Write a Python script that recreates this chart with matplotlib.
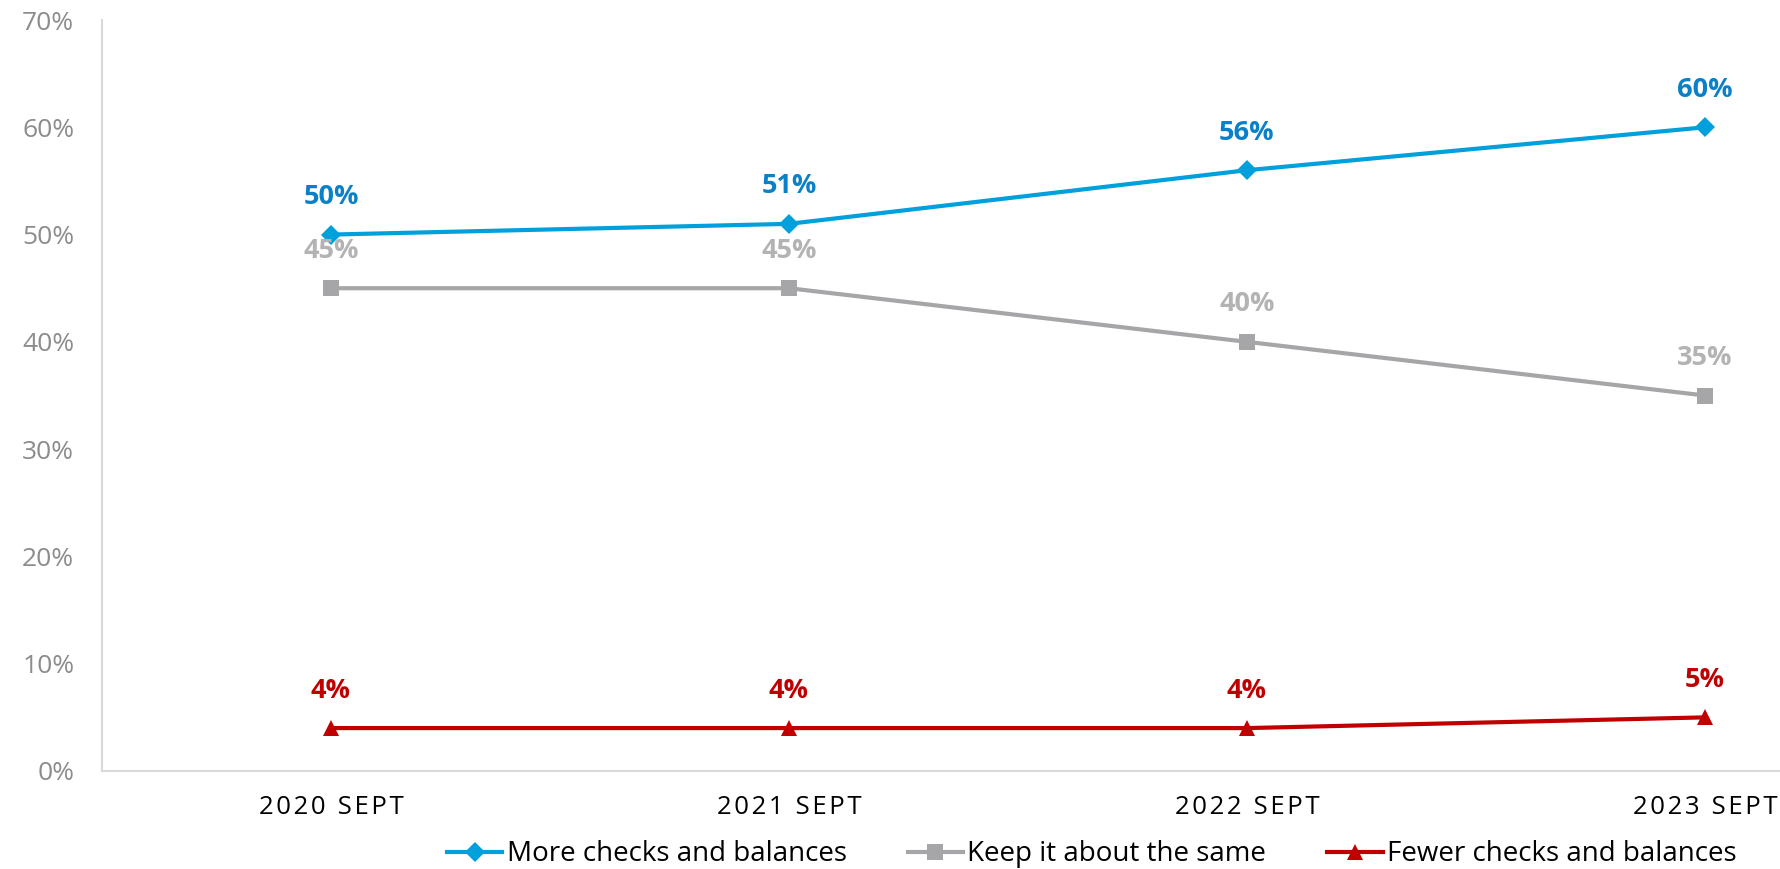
import matplotlib
matplotlib.use("Agg")
import matplotlib.pyplot as plt
from matplotlib.ticker import PercentFormatter

# Survey waves and response shares (%)
waves = ["2020 SEPT", "2021 SEPT", "2022 SEPT", "2023 SEPT"]
more_checks = [50, 51, 56, 60]
keep_same = [45, 45, 40, 35]
fewer_checks = [4, 4, 4, 5]

series = [
    ("More checks and balances", more_checks, "#00A0DC", "#0A80C8", "D", 10),
    ("Keep it about the same", keep_same, "#A6A6A9", "#B3B3B3", "s", 11),
    ("Fewer checks and balances", fewer_checks, "#C00000", "#C00000", "^", 12),
]

plt.rcParams["font.family"] = ["Open Sans", "DejaVu Sans"]

fig = plt.figure(figsize=(17.81, 8.69), dpi=100)
ax = fig.add_axes([102 / 1781, 98 / 869, 1 - 102 / 1781, (771 - 20) / 869])

x = list(range(len(waves)))
for name, vals, lc, tc, mk, ms in series:
    ax.plot(x, vals, color=lc, lw=3, marker=mk, markersize=ms,
            markeredgewidth=0, label=name, clip_on=False)
    for xi, v in zip(x, vals):
        ax.annotate(f"{v}%", (xi, v), xytext=(0, 27), textcoords="offset points",
                    ha="center", va="center", fontsize=19.5, fontweight="bold",
                    color=tc)

ax.set_ylim(0, 70)
ax.set_yticks(range(0, 71, 10))
ax.yaxis.set_major_formatter(PercentFormatter(decimals=0))
ax.set_xlim(-0.5, (1781 - 102) / 458 - 0.5)
ax.set_xticks(x)
spaced = ["\u200a".join(w) for w in waves]
ax.set_xticklabels(spaced)

ax.tick_params(axis="y", length=0, pad=20, labelsize=19, labelcolor="#8C8C8C")
ax.tick_params(axis="x", length=0, pad=17, labelsize=18.5, labelcolor="#000000")

for side in ("top", "right"):
    ax.spines[side].set_visible(False)
for side in ("left", "bottom"):
    ax.spines[side].set_color("#D9D9D9")
    ax.spines[side].set_linewidth(1.5)

handles, labels = ax.get_legend_handles_labels()
fig.legend(handles, labels, loc="center", bbox_to_anchor=(0.613, 0.017),
           ncol=3, frameon=False, fontsize=20, handlelength=2.0,
           handletextpad=0.15, columnspacing=2.2)

fig.savefig("out.png", dpi=100)
